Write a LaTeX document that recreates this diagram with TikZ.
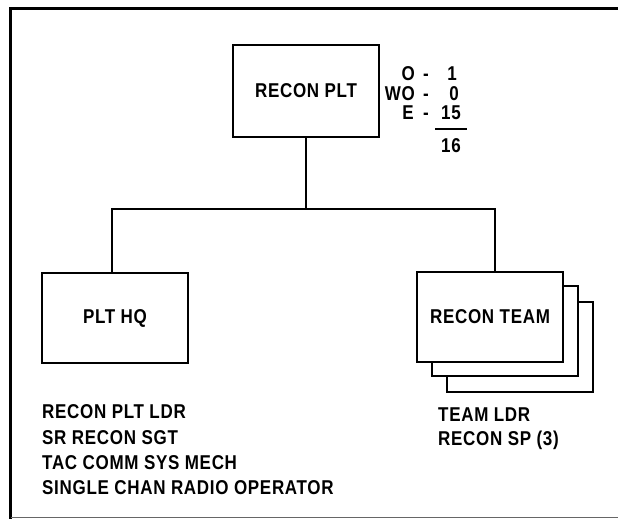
\documentclass[tikz,border=0pt]{standalone}
\usepackage{fontspec}
\setmainfont[FakeStretch=0.85, LetterSpace=3.5]{Liberation Sans}
\begin{document}
\begin{tikzpicture}[x=1pt,y=-1pt,
  lbl/.style={font=\fontsize{20}{22}\selectfont\bfseries, inner sep=0pt},
  orgbox/.style={draw, line width=2.2pt, fill=white, minimum width=146pt, minimum height=90pt, inner sep=0pt, font=\fontsize{20}{22}\selectfont\bfseries},
  conn/.style={line width=2.8pt}]
\useasboundingbox (0,0) rectangle (618,519);
% frame
\draw[line width=3.5pt] (10.5,519) -- (10.5,8.5) -- (618,8.5);
\draw[line width=1pt, black!60] (10.5,517.5) -- (618,517.5);
% boxes
\node[orgbox, minimum height=92pt] (plt) at (306,91) {RECON PLT};
\node[orgbox] (hq) at (115,318) {PLT HQ};
\node[orgbox] (team3) at (520,347) {};
\node[orgbox] (team2) at (505,331) {};
\node[orgbox] (team) at (490,317) {RECON TEAM};
% strength figures
\node[lbl, anchor=base east] (o) at (415,81) {O};
\node[lbl, anchor=base east] (wo) at (415,100) {WO};
\node[lbl, anchor=base east] (e) at (414,119) {E};
\node[lbl, anchor=base] (d1) at (426,81) {-};
\node[lbl, anchor=base] (d2) at (426,100) {-};
\node[lbl, anchor=base] (d3) at (426,119) {-};
\node[lbl, anchor=base east] (n1) at (457,81) {1};
\node[lbl, anchor=base east] (n2) at (459,100) {0};
\node[lbl, anchor=base east] (n3) at (461,119) {15};
\node[lbl, anchor=base east] (n4) at (461,152) {16};
\coordinate (ul) at (435,129);
\coordinate (ur) at (467,129);
\draw[line width=2.2pt] (ul) -- (ur);
% connectors
\coordinate (bus) at (306,209);
\draw[conn] (plt.south) -- (bus);
\draw[conn] ([xshift=-3pt]hq.north) -- ([xshift=-3pt]hq.north |- bus) -- ([xshift=5pt]team.north |- bus) -- ([xshift=5pt]team.north);
% lists
\node[lbl, anchor=west] (l1) at (42,412) {RECON PLT LDR};
\node[lbl, anchor=west] (l2) at (42,438) {SR RECON SGT};
\node[lbl, anchor=west] (l3) at (42,463) {TAC COMM SYS MECH};
\node[lbl, anchor=west] (l4) at (42,488) {SINGLE CHAN RADIO OPERATOR};
\node[lbl, anchor=west] (t1) at (438,415) {TEAM LDR};
\node[lbl, anchor=west] (t2) at (438,440) {RECON SP (3)};
\end{tikzpicture}
\end{document}
